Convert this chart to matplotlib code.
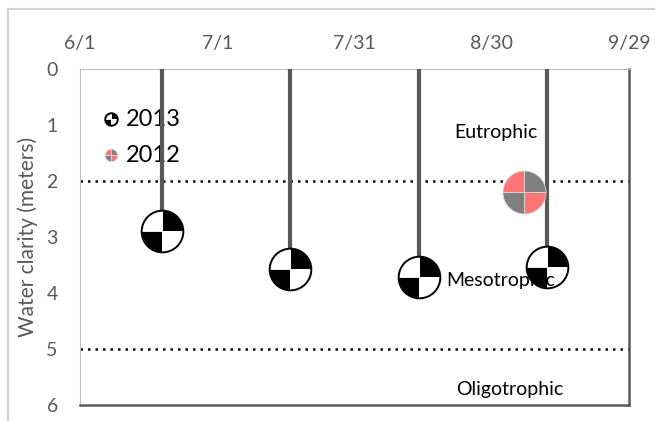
import datetime as dt
import matplotlib
matplotlib.use("Agg")
import matplotlib.pyplot as plt
from matplotlib.path import Path
from matplotlib.patches import Rectangle

# Secchi disk readings (water clarity, meters)
dates_2013 = [dt.date(2013, 6, 19), dt.date(2013, 7, 17), dt.date(2013, 8, 14), dt.date(2013, 9, 11)]
depth_2013 = [2.9, 3.57, 3.71, 3.54]
dates_2012 = [dt.date(2013, 9, 6)]
depth_2012 = [2.2]

tick_dates = [dt.date(2013, 6, 1), dt.date(2013, 7, 1), dt.date(2013, 7, 31),
              dt.date(2013, 8, 30), dt.date(2013, 9, 29)]
tick_labels = ["6/1", "7/1", "7/31", "8/30", "9/29"]
trophic_limits = [2, 5]

plt.rcParams['font.family'] = ['Lato', 'DejaVu Sans']

# quarter wedges used as markers (TR, TL, BL, BR)
quads = [Path.wedge(0, 90), Path.wedge(90, 180), Path.wedge(180, 270), Path.wedge(270, 360)]


def disk(ax, x, y, colors, size, outline=None, edge="white", **kw):
    for q, c in zip(quads, colors):
        ax.plot(x, y, linestyle="none", marker=q, markersize=size, markerfacecolor=c,
                markeredgecolor=edge, markeredgewidth=0.6, zorder=5, **kw)
    if outline:
        ax.plot(x, y, linestyle="none", marker="o", markersize=size, markerfacecolor="none",
                markeredgecolor=outline, markeredgewidth=1.4, zorder=6, **kw)


def main():
    fig = plt.figure(figsize=(6.55, 4.21), dpi=100)
    ax = fig.add_axes([80 / 655, 1 - 405 / 421, 549 / 655, 336 / 421])

    # outer chart frame
    fig.add_artist(Rectangle((8 / 655, -0.2), 1.2, 1.2 - 9 / 421, transform=fig.transFigure,
                             fill=False, edgecolor="#d0d0d0", linewidth=1.5))

    ax.vlines(dates_2013, 0, depth_2013, color="#595959", linewidth=3, zorder=3)
    for lim in trophic_limits:
        ax.axhline(lim, color="black", linestyle=(0, (1, 2)), linewidth=1.8, zorder=2)

    bw = ["black", "white", "black", "white"]
    rg = ["#808080", "#ff7575", "#808080", "#ff7575"]
    disk(ax, dates_2013, depth_2013, bw, 30, outline="black")
    disk(ax, dates_2012, depth_2012, rg, 31, edge="#d8d8d8")

    ax.text(dt.date(2013, 8, 31), 1.13, "Eutrophic", ha="center", va="center", fontsize=14, zorder=4)
    ax.text(dt.date(2013, 9, 1), 3.77, "Mesotrophic", ha="center", va="center", fontsize=14, zorder=7)
    ax.text(dt.date(2013, 9, 3), 5.73, "Oligotrophic", ha="center", va="center", fontsize=14, zorder=4)

    # legend drawn by hand
    disk(ax, [0.056], [0.851], bw, 9, outline="black", transform=ax.transAxes)
    disk(ax, [0.056], [0.744], rg, 9, edge="#d8d8d8", transform=ax.transAxes)
    ax.text(0.083, 0.851, "2013", transform=ax.transAxes, va="center", fontsize=17, zorder=2)
    ax.text(0.083, 0.744, "2012", transform=ax.transAxes, va="center", fontsize=17, zorder=2)

    ax.set_xlim(tick_dates[0], tick_dates[-1])
    ax.set_ylim(6, 0)
    ax.xaxis.tick_top()
    ax.set_xticks(tick_dates)
    ax.set_xticklabels(tick_labels)
    ax.set_yticks(range(7))
    ax.tick_params(axis="both", length=0, labelsize=14, labelcolor="#595959")
    ax.tick_params(axis="x", pad=12)
    ax.tick_params(axis="y", pad=16)
    ax.set_ylabel("Water clarity (meters)", fontsize=15, color="#595959", labelpad=6)

    ax.spines["top"].set_color("#bfbfbf")
    ax.spines["left"].set_color("#bfbfbf")
    ax.spines["right"].set_color("#595959")
    ax.spines["bottom"].set_color("#595959")
    ax.spines["right"].set_linewidth(1.8)
    ax.spines["bottom"].set_linewidth(1.8)

    fig.savefig("out.png", dpi=100)


if __name__ == "__main__":
    main()
